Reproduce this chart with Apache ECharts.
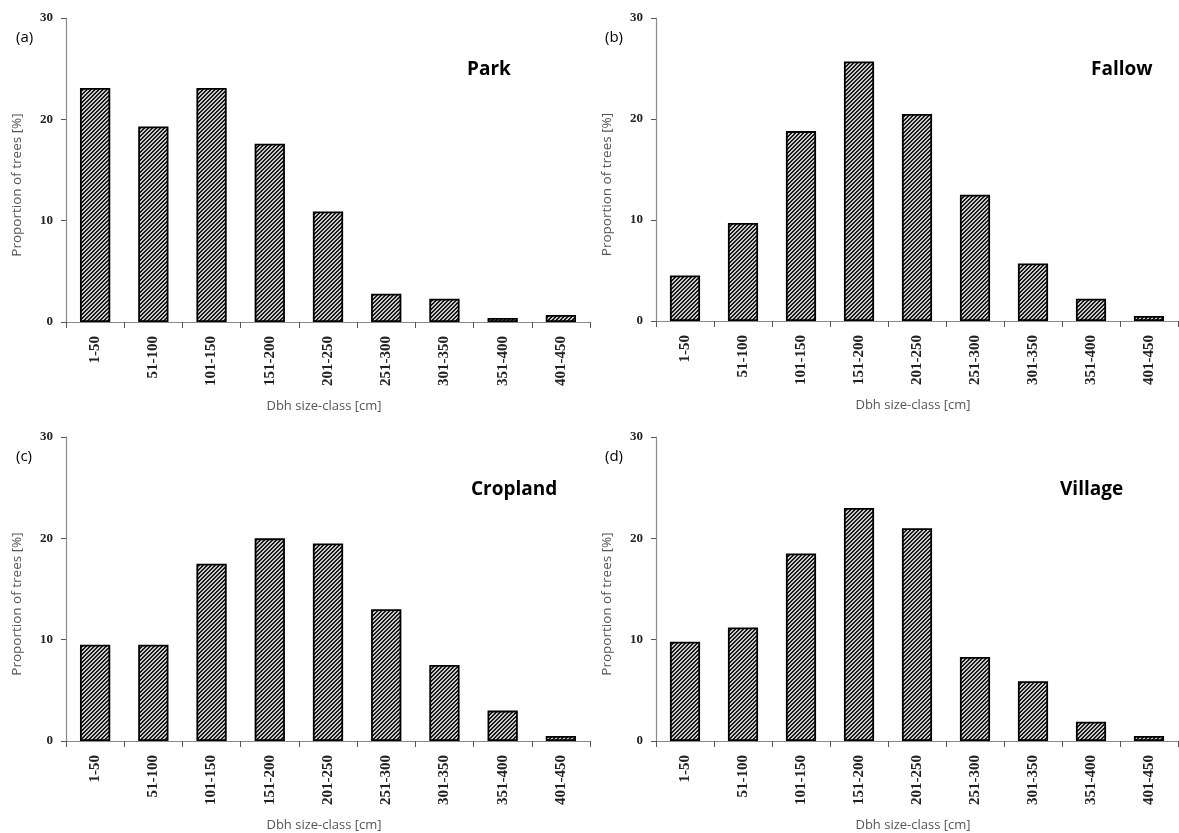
<!DOCTYPE html>
<html>
<head>
<meta charset="utf-8">
<script src="https://cdn.jsdelivr.net/npm/echarts@6/dist/echarts.min.js"></script>
<style>
html,body{margin:0;padding:0;background:#fff;}
#chart{width:1179px;height:833px;}
</style>
</head>
<body>
<div id="chart"></div>
<script>
const categories = ['1-50','51-100','101-150','151-200','201-250','251-300','301-350','351-400','401-450'];
const parkValues = [23.1, 19.3, 23.1, 17.6, 10.9, 2.8, 2.3, 0.4, 0.7];
const fallowValues = [4.5, 9.7, 18.8, 25.7, 20.5, 12.5, 5.7, 2.2, 0.5];
const croplandValues = [9.5, 9.5, 17.5, 20.0, 19.5, 13.0, 7.5, 3.0, 0.5];
const villageValues = [9.8, 11.2, 18.5, 23.0, 21.0, 8.3, 5.9, 1.9, 0.5];
const panelLetters = ['(a)','(b)','(c)','(d)'];
const panelNames = ['Park','Fallow','Cropland','Village'];
const xAxisTitle = 'Dbh size-class [cm]';
const yAxisTitle = 'Proportion of trees [%]';

function makePattern(){
  const c = document.createElement('canvas');
  c.width = 4; c.height = 4;
  const ctx = c.getContext('2d');
  ctx.fillStyle = '#c8c8c8';
  ctx.fillRect(0,0,4,4);
  ctx.fillStyle = '#1a1a1a';
  for (let i = 0; i < 4; i++) {
    ctx.fillRect(i, 3 - i, 1, 1);
    ctx.fillRect((i + 1) % 4, 3 - i, 1, 1);
  }
  return c;
}
const pattern = makePattern();

const grids = [
  {left:66, right:589, top:18, bottom:511},
  {left:656, right:1, top:18, bottom:512},
  {left:66, right:589, top:437, bottom:92},
  {left:656, right:1, top:437, bottom:92}
];
const seriesData = [parkValues, fallowValues, croplandValues, villageValues];

const xAxes = [], yAxes = [], series = [], titles = [];
grids.forEach((g, i) => {
  xAxes.push({
    type:'category', gridIndex:i, data:categories,
    axisLine:{lineStyle:{color:'#8a8a8a', width:1.2}},
    axisTick:{show:true, alignWithLabel:false, length:6, lineStyle:{color:'#555'}},
    axisLabel:{rotate:90, fontSize:15, fontWeight:'bold', color:'#222', margin:14, fontFamily:'Liberation Serif'},
    name:xAxisTitle, nameLocation:'middle', nameGap:78,
    nameTextStyle:{fontSize:13, color:'#555', fontFamily:'Open Sans', padding:[0,8,0,0]}
  });
  yAxes.push({
    type:'value', gridIndex:i, min:0, max:30, interval:10,
    axisLine:{show:true, lineStyle:{color:'#8a8a8a', width:1.2}},
    axisTick:{show:true, length:5, lineStyle:{color:'#555'}},
    splitLine:{show:false},
    axisLabel:{fontSize:13, fontWeight:'bold', color:'#222', margin:13, fontFamily:'Liberation Serif'},
    name:yAxisTitle, nameLocation:'middle', nameGap:42,
    nameTextStyle:{fontSize:13.5, color:'#555', fontFamily:'Open Sans', padding:[0,30,0,0]}
  });
  series.push({
    type:'bar', xAxisIndex:i, yAxisIndex:i, data:seriesData[i],
    barCategoryGap:'48%',
    itemStyle:{color:{image:pattern, repeat:'repeat'}, borderColor:'#000', borderWidth:1.8},
    emphasis:{disabled:true}
  });
});

const letterPos = [[11,25],[600,25],[11,444],[600,444]];
const namePos = [[462,55],[1086,55],[466,475],[1055,475]];
panelLetters.forEach((t,i)=>{
  titles.push({text:t, left:letterPos[i][0], top:letterPos[i][1], textStyle:{fontSize:15, fontWeight:'normal', color:'#000', fontFamily:'Open Sans'}});
});
panelNames.forEach((t,i)=>{
  titles.push({text:t, left:namePos[i][0], top:namePos[i][1], textStyle:{fontSize:19, fontWeight:'bold', color:'#000', fontFamily:'Open Sans'}});
});

const chart = echarts.init(document.getElementById('chart'));
chart.setOption({
  animation:false,
  backgroundColor:'#fff',
  title:titles,
  grid:grids,
  xAxis:xAxes,
  yAxis:yAxes,
  series:series
});
</script>
</body>
</html>
